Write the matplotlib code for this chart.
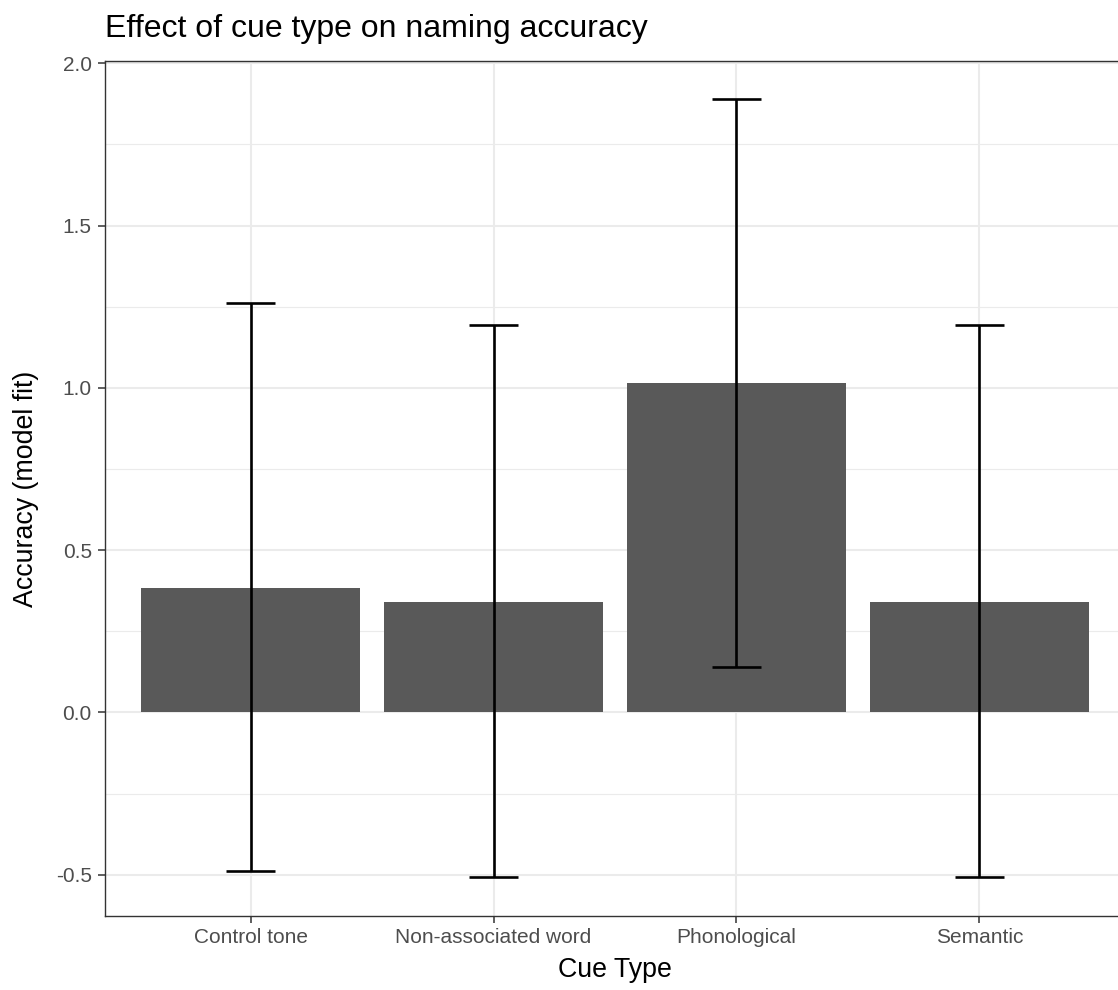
import matplotlib
matplotlib.use("Agg")
import matplotlib.pyplot as plt
import numpy as np
from matplotlib.ticker import MultipleLocator

categories = ["Control tone", "Non-associated word", "Phonological", "Semantic"]
accuracy = [0.384, 0.341, 1.014, 0.341]
ci_lower = [-0.488, -0.508, 0.141, -0.507]
ci_upper = [1.260, 1.193, 1.890, 1.193]
y_ticks = [-0.5, 0.0, 0.5, 1.0, 1.5, 2.0]
y_tick_labels = ["-0.5", "0.0", "0.5", "1.0", "1.5", "2.0"]

plt.rcParams['font.family'] = ['Liberation Sans', 'DejaVu Sans']

W, H = 1118, 990
fig = plt.figure(figsize=(W / 100, H / 100), dpi=100)
left, right, top, bottom = 105, 1125, 61, 916
ax = fig.add_axes([left / W, (H - bottom) / H, (right - left) / W, (bottom - top) / H])

x = np.arange(1, len(categories) + 1)
ax.bar(x, accuracy, width=0.9, color="#595959", zorder=2)
ax.vlines(x, ci_lower, ci_upper, color="black", linewidth=1.9, zorder=3)
cap = 0.1
ax.hlines(ci_lower, x - cap, x + cap, color="black", linewidth=1.9, zorder=3)
ax.hlines(ci_upper, x - cap, x + cap, color="black", linewidth=1.9, zorder=3)

ax.set_xlim(0.4, 4.6)
ax.set_ylim(-0.627, 2.007)
ax.set_xticks(x)
ax.set_xticklabels(categories)
ax.set_yticks(y_ticks)
ax.set_yticklabels(y_tick_labels)
ax.yaxis.set_minor_locator(MultipleLocator(0.25))

ax.grid(which="major", color="#EBEBEB", linewidth=1.5, zorder=0)
ax.grid(which="minor", axis="y", color="#EBEBEB", linewidth=0.8, zorder=0)
ax.set_axisbelow(True)
ax.tick_params(axis="both", which="major", length=5, width=1.1, color="#333333",
               labelcolor="#4D4D4D", labelsize=15)
ax.tick_params(axis="y", which="major", pad=4.5)
ax.tick_params(axis="x", which="major", pad=3.5)
ax.tick_params(axis="y", which="minor", length=0)
for s in ax.spines.values():
    s.set_color("#333333")
    s.set_linewidth(1.0)

fig.text(105 / W, 1 - 37 / H, "Effect of cue type on naming accuracy", fontsize=23,
         color="black", ha="left", va="baseline")
fig.text((left + right) / 2 / W, 1 - 977 / H, "Cue Type", fontsize=19.3,
         color="black", ha="center", va="baseline")
fig.text(26 / W, 1 - 489 / H, "Accuracy (model fit)", fontsize=19.3, rotation=90,
         color="black", ha="center", va="center")

fig.savefig("out.png", dpi=100)
